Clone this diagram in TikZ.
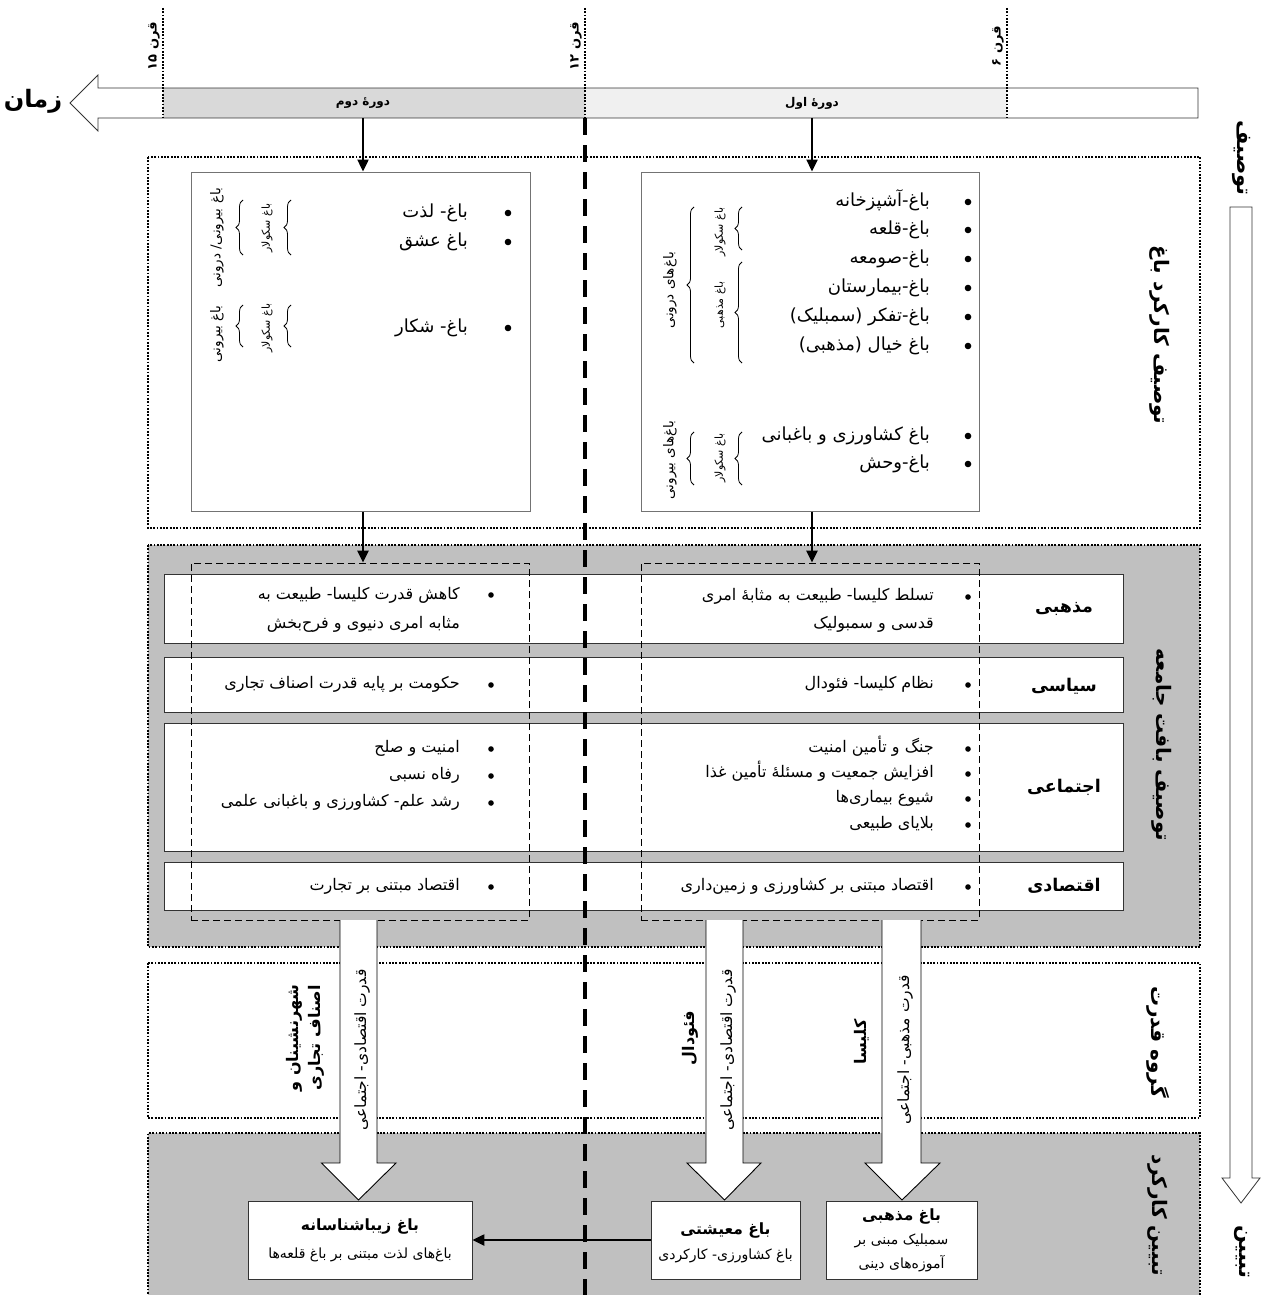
\documentclass[tikz,border=0pt]{standalone}
\usepackage{fontspec}
\usetikzlibrary{arrows.meta,decorations.pathreplacing}
\newfontfamily\arabicfont[Script=Arabic]{DejaVu Sans}
\TeXXeTstate=1
\newcommand\fa[1]{\beginR #1\endR}
\definecolor{regGray}{HTML}{C0C0C0}
\definecolor{barDark}{HTML}{D9D9D9}
\definecolor{barLight}{HTML}{F0F0F0}
\tikzset{
  dotline/.style={line width=1.8pt, dash pattern=on 1.8pt off 1.5pt},
  region/.style={dotline, draw=black},
  cline/.style={line width=3.2pt, dash pattern=on 17pt off 10pt},
  arr/.style={line width=2.4pt, -{Triangle[length=12pt,width=11pt]}},
  ibox/.style={draw=black!55, line width=1pt, fill=white, inner sep=0pt},
  dbox/.style={draw=black, line width=0.9pt, dash pattern=on 7pt off 4pt, inner sep=0pt},
  rowbox/.style={draw=black!80, line width=0.9pt, fill=white, inner sep=0pt},
  hollow/.style={draw=black, line width=0.9pt, fill=white},
  bbox/.style={draw=black!80, line width=0.9pt, fill=white, inner sep=0pt, align=center},
  gtxt/.style={font=\arabicfont\fontsize{18}{22}\selectfont, anchor=east, inner sep=0pt, text height=13pt, text depth=5pt},
  rtxt/.style={font=\arabicfont\fontsize{16}{20}\selectfont, anchor=east, inner sep=0pt, text height=11.5pt, text depth=4.5pt},
  rlab/.style={font=\arabicfont\bfseries\fontsize{17.5}{20}\selectfont, inner sep=0pt},
  vlab/.style={font=\arabicfont\bfseries\fontsize{20}{24}\selectfont, rotate=-90, inner sep=0pt},
  tlab/.style={font=\arabicfont\bfseries\fontsize{21}{25}\selectfont, rotate=-90, inner sep=0pt},
  slab/.style={font=\arabicfont\fontsize{11}{13}\selectfont, rotate=90, inner sep=0pt},
  mlab/.style={font=\arabicfont\fontsize{13.5}{16}\selectfont, rotate=90, inner sep=0pt},
  alab/.style={font=\arabicfont\fontsize{15.5}{18}\selectfont, rotate=90, inner sep=0pt},
  plab/.style={font=\arabicfont\bfseries\fontsize{16}{22}\selectfont, rotate=90, inner sep=0pt, align=center},
  qlab/.style={font=\arabicfont\bfseries\fontsize{13}{15}\selectfont, rotate=90, anchor=south, inner sep=1pt},
  btitle/.style={font=\arabicfont\bfseries\fontsize{15.5}{18}\selectfont, inner sep=0pt},
  bsub/.style={font=\arabicfont\fontsize{14}{16}\selectfont, inner sep=0pt},
  brc/.style={decorate, decoration={brace, amplitude=7pt}, line width=0.8pt},
}
\begin{document}
\begin{tikzpicture}[x=1pt,y=-1pt]
\useasboundingbox (0,0) rectangle (1263,1295);
% ---------- regions
\fill[white] (148,157) rectangle (1200,528);
\draw[region] (148,157) rectangle (1200,528);
\fill[regGray] (148,545) rectangle (1200,947);
\draw[region] (148,545) rectangle (1200,947);
\fill[white] (148,963) rectangle (1200,1118);
\draw[region] (148,963) rectangle (1200,1118);
\fill[regGray] (148,1133) rectangle (1200,1296);
\draw[region] (148,1297) -- (148,1133) -- (1200,1133) -- (1200,1297);
% ---------- timeline bar
\fill[white] (1198,88) -- (98,88) -- (98,75) -- (70,103) -- (98,131) -- (98,118) -- (1198,118) -- cycle;
\fill[barDark] (163,88) rectangle (585,118);
\fill[barLight] (585,88) rectangle (1007,118);
\draw[line width=0.8pt, draw=black!80] (1198,88) -- (98,88) -- (98,75) -- (70,103) -- (98,131) -- (98,118) -- (1198,118) -- cycle;
\draw[dotline] (163,8) -- (163,118);
\draw[dotline] (585,8) -- (585,118);
\draw[dotline] (1007,8) -- (1007,118);
\node[qlab] (q15) at (161,46) {\fa{قرن ۱۵}};
\node[qlab] (q12) at (583,46) {\fa{قرن ۱۲}};
\node[qlab] (q6) at (1005,46) {\fa{قرن ۶}};
\node[font=\arabicfont\bfseries\fontsize{24}{28}\selectfont, inner sep=0pt] (zaman) at (33,101) {\fa{زمان}};
\node[font=\arabicfont\bfseries\fontsize{12}{14}\selectfont, inner sep=0pt] (per2) at (363,103) {\fa{دورهٔ دوم}};
\node[font=\arabicfont\bfseries\fontsize{12}{14}\selectfont, inner sep=0pt] (per1) at (812,103) {\fa{دورهٔ اول}};
% ---------- right time arrow
\filldraw[fill=white, draw=black!80, line width=0.8pt] (1230,207) -- (1252,207) -- (1252,1178) -- (1260,1178) -- (1241,1203) -- (1222,1178) -- (1230,1178) -- cycle;
\node[tlab] (tos) at (1242,158) {\fa{توصیف}};
\node[tlab] (tab) at (1242,1252) {\fa{تبیین}};
% ---------- top boxes
\node[ibox, minimum width=339pt, minimum height=339pt] (tl) at (360.5,341.5) {};
\node[ibox, minimum width=338pt, minimum height=339pt] (tr) at (810,341.5) {};
% ---------- rows
\node[rowbox, minimum width=959pt, minimum height=69pt] (r1) at (643.5,608.5) {};
\node[rowbox, minimum width=959pt, minimum height=55pt] (r2) at (643.5,684.5) {};
\node[rowbox, minimum width=959pt, minimum height=128pt] (r3) at (643.5,787) {};
\node[rowbox, minimum width=959pt, minimum height=48pt] (r4) at (643.5,886) {};
\node[dbox, minimum width=338pt, minimum height=357pt] (dl) at (360,741.5) {};
\node[dbox, minimum width=338pt, minimum height=357pt] (dr) at (810,741.5) {};
% ---------- central dashed line
\draw[cline] (585,118) -- (585,1296);
% ---------- arrows
\coordinate (c2) at (363,118);
\coordinate (c1) at (812,118);
\draw[arr] (c2) -- (c2 |- tl.north);
\draw[arr] (c1) -- (c1 |- tr.north);
\draw[arr] (c2 |- tl.south) -- (c2 |- dl.north);
\draw[arr] (c1 |- tr.south) -- (c1 |- dr.north);
% ---------- top-left box content
\node[gtxt] (g1) at (468,213) {\fa{باغ- لذت}};
\node[gtxt] (g2) at (468,242) {\fa{باغ عشق}};
\node[gtxt] (g3) at (468,328) {\fa{باغ- شکار}};
\foreach \yy in {213,242,328} \fill (508,\yy) circle (3.3pt);
\draw[brc] (243,255) -- (243,200);
\draw[brc] (291,255) -- (291,200);
\draw[brc] (243,347) -- (243,305);
\draw[brc] (291,347) -- (291,305);
\node[mlab] (lb1) at (217,238) {\fa{باغ بیرونی/ درونی}};
\node[slab] (lb2) at (267,228) {\fa{باغ سکولار}};
\node[mlab] (lb3) at (217,334) {\fa{باغ بیرونی}};
\node[slab] (lb4) at (267,328) {\fa{باغ سکولار}};
% ---------- top-right box content
\node[gtxt] (h1) at (930,202) {\fa{باغ-آشپزخانه}};
\node[gtxt] (h2) at (930,230) {\fa{باغ-قلعه}};
\node[gtxt] (h3) at (930,259) {\fa{باغ-صومعه}};
\node[gtxt] (h4) at (930,288) {\fa{باغ-بیمارستان}};
\node[gtxt] (h5) at (930,317) {\fa{باغ-تفکر (سمبلیک)}};
\node[gtxt] (h6) at (930,346) {\fa{باغ خیال (مذهبی)}};
\node[gtxt] (h7) at (930,436) {\fa{باغ کشاورزی و باغبانی}};
\node[gtxt] (h8) at (930,464) {\fa{باغ-وحش}};
\foreach \yy in {202,230,259,288,317,346,436,464} \fill (968,\yy) circle (3.3pt);
\draw[brc] (694,363) -- (694,207);
\draw[brc] (742,250) -- (742,207);
\draw[brc] (742,363) -- (742,262);
\draw[brc] (694,485) -- (694,432);
\draw[brc] (742,485) -- (742,432);
\node[mlab] (rb1) at (670,290) {\fa{باغ‌های درونی}};
\node[slab] (rb2) at (720,232) {\fa{باغ سکولار}};
\node[slab] (rb3) at (720,305) {\fa{باغ مذهبی}};
\node[mlab] (rb4) at (670,460) {\fa{باغ‌های بیرونی}};
\node[slab] (rb5) at (720,458) {\fa{باغ سکولار}};
% ---------- rows content, left (second period)
\node[rtxt] (a1) at (460,596) {\fa{کاهش قدرت کلیسا- طبیعت به}};
\node[rtxt] (a2) at (460,625) {\fa{مثابه امری دنیوی و فرح‌بخش}};
\node[rtxt] (a3) at (460,685) {\fa{حکومت بر پایه قدرت اصناف تجاری}};
\node[rtxt] (a4) at (460,749) {\fa{امنیت و صلح}};
\node[rtxt] (a5) at (460,776) {\fa{رفاه نسبی}};
\node[rtxt] (a6) at (460,803) {\fa{رشد علم- کشاورزی و باغبانی علمی}};
\node[rtxt] (a7) at (460,887) {\fa{اقتصاد مبتنی بر تجارت}};
\foreach \yy in {595,685,749,776,803,887} \fill (491,\yy) circle (2.8pt);
% ---------- rows content, right (first period)
\node[rtxt] (b1) at (934,597) {\fa{تسلط کلیسا- طبیعت به مثابهٔ امری}};
\node[rtxt] (b2) at (934,625) {\fa{قدسی و سمبولیک}};
\node[rtxt] (b3) at (934,685) {\fa{نظام کلیسا- فئودال}};
\node[rtxt] (b4) at (934,749) {\fa{جنگ و تأمین امنیت}};
\node[rtxt] (b5) at (934,774) {\fa{افزایش جمعیت و مسئلهٔ تأمین غذا}};
\node[rtxt] (b6) at (934,799) {\fa{شیوع بیماری‌ها}};
\node[rtxt] (b7) at (934,825) {\fa{بلایای طبیعی}};
\node[rtxt] (b8) at (934,887) {\fa{اقتصاد مبتنی بر کشاورزی و زمین‌داری}};
\foreach \yy in {597,685,749,774,799,825,887} \fill (968,\yy) circle (2.8pt);
% ---------- row labels
\node[rlab] (l1) at (1064,609) {\fa{مذهبی}};
\node[rlab] (l2) at (1064,686) {\fa{سیاسی}};
\node[rlab] (l3) at (1064,787) {\fa{اجتماعی}};
\node[rlab] (l4) at (1064,886) {\fa{اقتصادی}};
% ---------- region labels
\node[vlab] (v1) at (1160,335) {\fa{توصیف کارکرد باغ}};
\node[vlab] (v2) at (1162,745) {\fa{توصیف بافت جامعه}};
\node[vlab] (v3) at (1158,1042) {\fa{گروه قدرت}};
\node[vlab] (v4) at (1158,1215) {\fa{تبیین کارکرد}};
% ---------- hollow arrows
\filldraw[hollow] (340,920) -- (340,1163) -- (321.5,1163) -- (358.5,1200) -- (396,1163) -- (377,1163) -- (377,920);
\filldraw[hollow] (706,920) -- (706,1163) -- (687,1163) -- (724.5,1200) -- (761,1163) -- (743,1163) -- (743,920);
\filldraw[hollow] (882,920) -- (882,1163) -- (865,1163) -- (902,1200) -- (940,1163) -- (921,1163) -- (921,920);
\node[alab] (p1) at (362,1050) {\fa{قدرت اقتصادی- اجتماعی}};
\node[alab] (p2) at (728,1050) {\fa{قدرت اقتصادی- اجتماعی}};
\node[alab] (p3) at (905,1050) {\fa{قدرت مذهبی- اجتماعی}};
\node[plab] (gr1) at (305,1038) {\fa{شهرنشینان و}\\\fa{اصناف تجاری}};
\node[plab] (gr2) at (690,1038) {\fa{فئودال}};
\node[plab] (gr3) at (862,1042) {\fa{کلیسا}};
% ---------- bottom boxes
\node[bbox, minimum width=224pt, minimum height=78pt] (zib) at (360,1240) {};
\node[bbox, minimum width=149pt, minimum height=78pt] (mai) at (725.5,1240) {};
\node[bbox, minimum width=151pt, minimum height=78pt] (maz) at (901.5,1240) {};
\node[btitle] (zibt) at (360,1226) {\fa{باغ زیباشناسانه}};
\node[bsub] (zibs) at (360,1255) {\fa{باغ‌های لذت مبتنی بر باغ قلعه‌ها}};
\node[btitle] (mait) at (725.5,1230) {\fa{باغ معیشتی}};
\node[bsub] (mais) at (725.5,1256) {\fa{باغ کشاورزی- کارکردی}};
\node[btitle] (mazt) at (901.5,1216) {\fa{باغ مذهبی}};
\node[bsub] (mazs) at (901.5,1241) {\fa{سمبلیک مبنی بر}};
\node[bsub] (mazu) at (901.5,1264) {\fa{آموزه‌های دینی}};
\draw[arr] (mai.west) -- (zib.east);
\end{tikzpicture}
\end{document}
